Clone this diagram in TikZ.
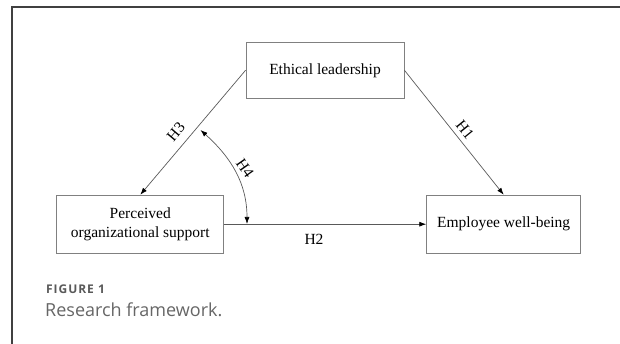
\documentclass[tikz,border=0pt]{standalone}
\usepackage{fontspec}
\setmainfont{Liberation Serif}
\newfontfamily\capfont{Open Sans}
\newfontfamily\figfont[LetterSpace=8]{Open Sans}
\usetikzlibrary{arrows.meta}

\begin{document}
\begin{tikzpicture}[x=1pt, y=1pt,
        >={Latex[length=7pt, width=5pt, color=black]},
        box/.style={draw=black!50, line width=0.9pt, minimum height=58pt, inner sep=0pt,
            align=center, font=\fontsize{15.5}{18.3}\selectfont},
        link/.style={draw=black!65, line width=0.7pt},
        hyp/.style={inner sep=0pt, font=\fontsize{15.5}{18}\selectfont}]
        \clip (0, 0) rectangle (620, 344);
        % panel frame, only its left and top edges are on the page
        \draw[black!75, line width=1.2pt] (12, -10) -- (12, 337) -- (640, 337);
        % \draw[help lines] (0, 0) grid[step=20] (620, 344);
        \node[box, minimum width=158pt, minimum height=56pt, name=ethical] at (325, 273.7) {Ethical leadership};
        \node[box, minimum width=167pt, name=perceived] at (140.3, 119.8) {Perceived\\organizational support};
        \node[box, minimum width=154pt, name=wellbeing] at (503.7, 119.8) {Employee well-being};
        \coordinate (h4_top) at (200.5, 214);
        \coordinate (h4_bot) at (247, 120);
        \draw[link, ->] (ethical.east) -- (wellbeing.north);
        \draw[link, ->] (ethical.west) -- (perceived.north);
        \draw[link, ->] (perceived.east) -- (wellbeing.west);
        \draw[link, <->] (h4_top) to[out=-42, in=90] (h4_bot);
        \node[hyp, rotate=-51, name=h1] at (465, 214) {H1};
        \node[hyp, name=h2] at (314, 104.5) {H2};
        \node[hyp, rotate=50, name=h3] at (175.8, 212.3) {H3};
        \node[hyp, rotate=-55, name=h4] at (245, 176) {H4};
        % caption
        \node[anchor=base west, inner sep=0pt, text=black!65, name=fig_no] at (46, 50.7)
            {\fontsize{12}{14}\figfont\bfseries FIGURE 1};
        \node[anchor=base west, inner sep=0pt, text=black!60, name=fig_title] at (45, 27.3)
            {\fontsize{18}{20}\capfont Research framework.};
    \end{tikzpicture}
\end{document}
